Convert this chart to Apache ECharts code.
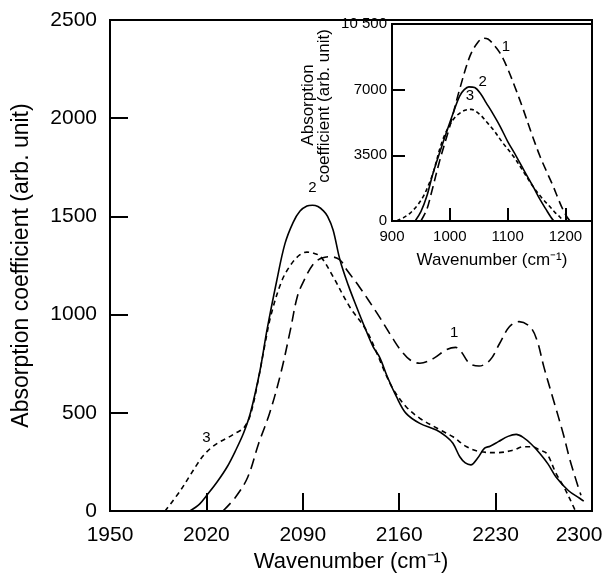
<!DOCTYPE html>
<html>
<head>
<meta charset="utf-8">
<script src="https://cdn.jsdelivr.net/npm/echarts@6/dist/echarts.min.js"></script>
<style>
  html, body { margin: 0; padding: 0; background: #fff; }
  #chart { width: 615px; height: 580px; }
</style>
</head>
<body>
<div id="chart"></div>
<script>
// main plot: wavenumber 1950-2300
var xTicksMain = [1950, 2020, 2090, 2160, 2230, 2300];
var yTicksMain = [0, 500, 1000, 1500, 2000, 2500];

// curve 1 (long dash)
var x1 = [2032, 2041, 2050, 2058, 2066, 2074, 2081, 2086, 2091, 2098, 2104, 2110, 2117, 2122, 2131, 2144, 2156, 2161, 2168, 2175, 2185, 2194, 2201, 2205, 2211, 2218, 2226, 2233, 2240, 2247, 2255, 2260, 2265, 2272, 2279, 2284, 2290, 2292];
var y1 = [0, 69, 172, 345, 500, 701, 922, 1091, 1176, 1261, 1288, 1295, 1278, 1227, 1142, 1006, 871, 820, 769, 752, 777, 820, 833, 811, 752, 738, 769, 854, 938, 964, 938, 871, 735, 565, 396, 260, 122, 80];

// curve 2 (solid)
var x2 = [2008, 2015, 2021, 2028, 2035, 2041, 2047, 2052, 2059, 2064, 2071, 2077, 2083, 2088, 2093, 2097, 2101, 2105, 2108, 2112, 2117, 2123, 2129, 2135, 2141, 2146, 2151, 2158, 2165, 2175, 2187, 2194, 2199, 2204, 2208, 2212, 2217, 2222, 2226, 2232, 2239, 2245, 2250, 2256, 2262, 2268, 2274, 2283, 2291, 2294];
var y2 = [0, 35, 86, 150, 224, 305, 397, 500, 718, 922, 1170, 1360, 1470, 1527, 1553, 1557, 1550, 1528, 1500, 1431, 1278, 1150, 1040, 935, 837, 780, 690, 582, 497, 446, 412, 380, 345, 276, 245, 235, 270, 320, 330, 353, 380, 390, 375, 340, 294, 240, 172, 103, 65, 50];

// curve 3 (short dash)
var x3 = [1990, 2001, 2008, 2013, 2018, 2024, 2030, 2036, 2041, 2047, 2052, 2058, 2062, 2067, 2075, 2082, 2088, 2093, 2098, 2103, 2112, 2124, 2136, 2144, 2150, 2156, 2165, 2175, 2190, 2199, 2209, 2219, 2231, 2243, 2250, 2257, 2262, 2267, 2274, 2280, 2284, 2288];
var y3 = [0, 103, 180, 235, 284, 325, 353, 375, 396, 422, 491, 680, 830, 1000, 1176, 1261, 1305, 1318, 1312, 1295, 1193, 1040, 922, 800, 700, 616, 531, 472, 412, 378, 327, 302, 297, 310, 327, 327, 310, 294, 190, 117, 60, 0];

// inset: wavenumber 900-1250
var inXTicks = [900, 1000, 1100, 1200];
var inYTicks = [0, 3500, 7000, 10500];

var ix1 = [950, 960, 968, 983, 1000, 1017, 1035, 1048, 1058, 1066, 1075, 1087, 1098, 1112, 1127, 1141, 1156, 1168, 1179, 1188, 1196, 1203, 1208];
var iy1 = [0, 600, 1480, 3270, 5050, 7020, 8800, 9500, 9740, 9700, 9430, 8950, 8270, 7200, 5950, 4700, 3450, 2600, 1840, 1150, 590, 200, 0];

var ix2 = [940, 950, 960, 971, 988, 1006, 1017, 1025, 1033, 1043, 1053, 1063, 1075, 1087, 1100, 1115, 1130, 1144, 1156, 1167, 1175, 1180];
var iy2 = [0, 500, 1300, 2550, 4160, 5770, 6660, 7000, 7150, 7110, 6800, 6300, 5700, 5050, 4250, 3450, 2600, 1840, 1150, 590, 200, 0];

var ix3 = [908, 920, 931, 943, 954, 963, 971, 988, 1006, 1023, 1037, 1052, 1063, 1075, 1092, 1110, 1127, 1144, 1160, 1173, 1183, 1190, 1196];
var iy3 = [0, 180, 410, 800, 1300, 1900, 2550, 4340, 5410, 5860, 5950, 5680, 5300, 4880, 4150, 3450, 2650, 1840, 1200, 770, 420, 230, 0];

// curve number labels [text, x, y]
var mainLabels = [['1', 2200, 905], ['2', 2097, 1645], ['3', 2020, 370]];
var insetLabels = [['1', 1097, 9270], ['2', 1057, 7400], ['3', 1035, 6650]];

var X0 = xTicksMain[0]; // main x axis drawn as offset from 1950
var FONT = "'Liberation Sans', Arial, sans-serif";
var XNAME = 'Wavenumber (cm\u207B\u00B9)';

function pairs(xs, ys, off) {
  return xs.map(function (x, i) { return [x - off, ys[i]]; });
}

function tag(lab, off) {
  return {
    symbol: 'rect',
    symbolSize: 1,
    silent: true,
    itemStyle: { color: 'rgba(0,0,0,0)' },
    label: { show: true, position: 'inside', color: '#000', fontSize: 15, fontFamily: FONT, formatter: lab[0] },
    data: [{ coord: [lab[1] - off, lab[2]] }]
  };
}

function curve(data, dash, xi, lab, off) {
  return {
    type: 'line',
    xAxisIndex: xi,
    yAxisIndex: xi,
    data: data,
    showSymbol: false,
    smooth: 0.35,
    lineStyle: { color: '#000', width: 1.6, type: dash },
    markPoint: tag(lab, off),
    z: xi ? 8 : 3
  };
}

var myChart = echarts.init(document.getElementById('chart'));
myChart.setOption({
  animation: false,
  textStyle: { fontFamily: FONT },
  grid: [
    { left: 110, top: 20, width: 482, height: 491, show: true, borderColor: '#000', borderWidth: 2 },
    { left: 392, top: 24, width: 200, height: 197, show: true, backgroundColor: '#fff', borderColor: '#000', borderWidth: 2, z: 5 }
  ],
  xAxis: [
    {
      type: 'value', gridIndex: 0,
      min: 0, max: xTicksMain[xTicksMain.length - 1] - X0, interval: xTicksMain[1] - xTicksMain[0],
      splitLine: { show: false },
      axisLine: { lineStyle: { color: '#000', width: 2 } },
      axisTick: { inside: true, length: 18, lineStyle: { color: '#000', width: 2 } },
      axisLabel: {
        color: '#000', fontSize: 21, margin: 14,
        formatter: function (v) {
          var t = String(v + X0);
          return v + X0 === xTicksMain[xTicksMain.length - 1] ? '{e|' + t + '}' : t;
        },
        rich: { e: { color: '#000', fontSize: 21, fontFamily: FONT, padding: [0, 26, 0, 0] } }
      },
      name: XNAME,
      nameLocation: 'middle', nameGap: 40,
      nameTextStyle: { color: '#000', fontSize: 22 }
    },
    {
      type: 'value', gridIndex: 1,
      min: inXTicks[0], max: 1246, interval: inXTicks[1] - inXTicks[0],
      splitLine: { show: false },
      axisLine: { lineStyle: { color: '#000', width: 2 } },
      axisTick: { inside: true, length: 13, lineStyle: { color: '#000', width: 2 } },
      axisLabel: { color: '#000', fontSize: 15, margin: 8, showMaxLabel: false, formatter: function (v) { return String(v); } },
      name: XNAME,
      nameLocation: 'middle', nameGap: 31,
      nameTextStyle: { color: '#000', fontSize: 17 },
      z: 6
    }
  ],
  yAxis: [
    {
      type: 'value', gridIndex: 0,
      min: yTicksMain[0], max: yTicksMain[yTicksMain.length - 1], interval: yTicksMain[1] - yTicksMain[0],
      splitLine: { show: false },
      axisLine: { lineStyle: { color: '#000', width: 2 } },
      axisTick: { inside: true, length: 18, lineStyle: { color: '#000', width: 2 } },
      axisLabel: { color: '#000', fontSize: 21, margin: 13, formatter: function (v) { return String(v); } },
      name: 'Absorption coefficient (arb. unit)',
      nameLocation: 'middle', nameGap: 77,
      nameTextStyle: { color: '#000', fontSize: 23 }
    },
    {
      type: 'value', gridIndex: 1,
      min: inYTicks[0], max: inYTicks[inYTicks.length - 1], interval: inYTicks[1] - inYTicks[0],
      splitLine: { show: false },
      axisLine: { lineStyle: { color: '#000', width: 2 } },
      axisTick: { inside: true, length: 13, lineStyle: { color: '#000', width: 2 } },
      axisLabel: { color: '#000', fontSize: 15, margin: 5, formatter: function (v) { return v === 10500 ? '10 500' : String(v); } },
      z: 6
    }
  ],
  graphic: [
    { type: 'text', x: 308, y: 105, rotation: Math.PI / 2, z: 10,
      style: { text: 'Absorption', fill: '#000', font: '17px ' + FONT, textAlign: 'center', textVerticalAlign: 'middle' } },
    { type: 'text', x: 324, y: 106, rotation: Math.PI / 2, z: 10,
      style: { text: 'coefficient (arb. unit)', fill: '#000', font: '17px ' + FONT, textAlign: 'center', textVerticalAlign: 'middle' } }
  ],
  series: [
    curve(pairs(x1, y1, X0), [11, 6], 0, mainLabels[0], X0),
    curve(pairs(x2, y2, X0), 'solid', 0, mainLabels[1], X0),
    curve(pairs(x3, y3, X0), [5, 4], 0, mainLabels[2], X0),
    curve(pairs(ix1, iy1, 0), [9, 5], 1, insetLabels[0], 0),
    curve(pairs(ix2, iy2, 0), 'solid', 1, insetLabels[1], 0),
    curve(pairs(ix3, iy3, 0), [4, 3], 1, insetLabels[2], 0)
  ]
});
</script>
</body>
</html>
